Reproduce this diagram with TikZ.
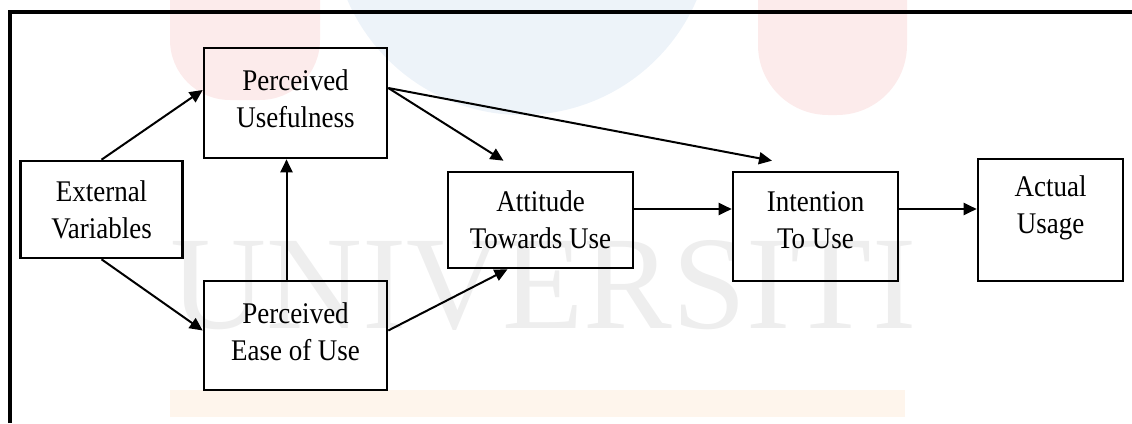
\documentclass[tikz,border=0pt]{standalone}
\usepackage{fontspec}
\setmainfont[FakeStretch=0.9]{Liberation Serif}
\newfontfamily\wmfont{Liberation Serif}
\usetikzlibrary{arrows.meta,calc}
\definecolor{wmpink}{HTML}{FCEBEB}
\definecolor{wmblue}{HTML}{EDF3F9}
\definecolor{wmgray}{HTML}{EEEEEE}
\definecolor{wmorange}{HTML}{FEF5EC}
\begin{document}
\begin{tikzpicture}[x=1pt, y=-1pt,
  box/.style={draw, line width=2.6pt, align=center, inner sep=0pt, font=\fontsize{30}{37}\selectfont},
  flow/.style={line width=2pt, -{Triangle[length=13pt,width=12pt]}}]
\useasboundingbox (0,0) rectangle (1132,423);
% faint watermark behind the model
\begin{scope}
\clip (0,0) rectangle (1132,423);
\fill[wmpink, rounded corners=60pt] (170,-80) rectangle (320,100);
\fill[wmblue] (522,-75) circle (190pt);
\fill[wmpink, rounded corners=70pt] (758,-80) rectangle (907,115);
\fill[wmorange] (170,390) rectangle (905,417);
\node[wmgray, font=\wmfont\fontsize{133}{133}\selectfont, anchor=base west, inner sep=0pt] (wm) at (170,328) {UNIVERSITI};
\end{scope}
\draw[line width=4pt] (10,423) -- (10,12) -- (1132,12);
\node[box, minimum width=162pt, minimum height=97pt] (ev) at (101.5,209.5) {External\\Variables};
\node[box, minimum width=183pt, minimum height=110pt, text depth=9pt] (pu) at (295.5,103) {Perceived\\Usefulness};
\node[box, minimum width=183pt, minimum height=109pt, text depth=7pt] (peu) at (295.5,335.5) {Perceived\\Ease of Use};
\node[box, minimum width=185pt, minimum height=96pt] (atu) at (540.5,220) {Attitude\\Towards Use};
\node[box, minimum width=165pt, minimum height=109pt, text depth=13pt] (itu) at (815.5,226.5) {Intention\\To Use};
\node[box, minimum width=145pt, minimum height=122pt, text depth=30pt] (au) at (1050.5,220) {Actual\\Usage};
\draw[flow] (ev.north) -- ($(pu.west)+(0,-13)$);
\draw[flow] (ev.south) -- ($(peu.west)+(0,-5)$);
\draw[flow] ($(peu.north)+(-9,0)$) -- ($(pu.south)+(-9,0)$);
\draw[flow] ($(pu.east)+(0,-15)$) -- ($(atu.north)+(-37,-10)$);
\draw[flow] ($(pu.east)+(0,-15)$) -- ($(itu.north)+(-43.5,-10)$);
\draw[flow] ($(peu.east)+(0,-5)$) -- ($(atu.south)+(-33,0)$);
\draw[flow] ($(atu.east)+(0,-11)$) -- ($(itu.west)+(0,-17.5)$);
\draw[flow] ($(itu.east)+(0,-17.5)$) -- ($(au.west)+(0,-11)$);
\end{tikzpicture}
\end{document}
